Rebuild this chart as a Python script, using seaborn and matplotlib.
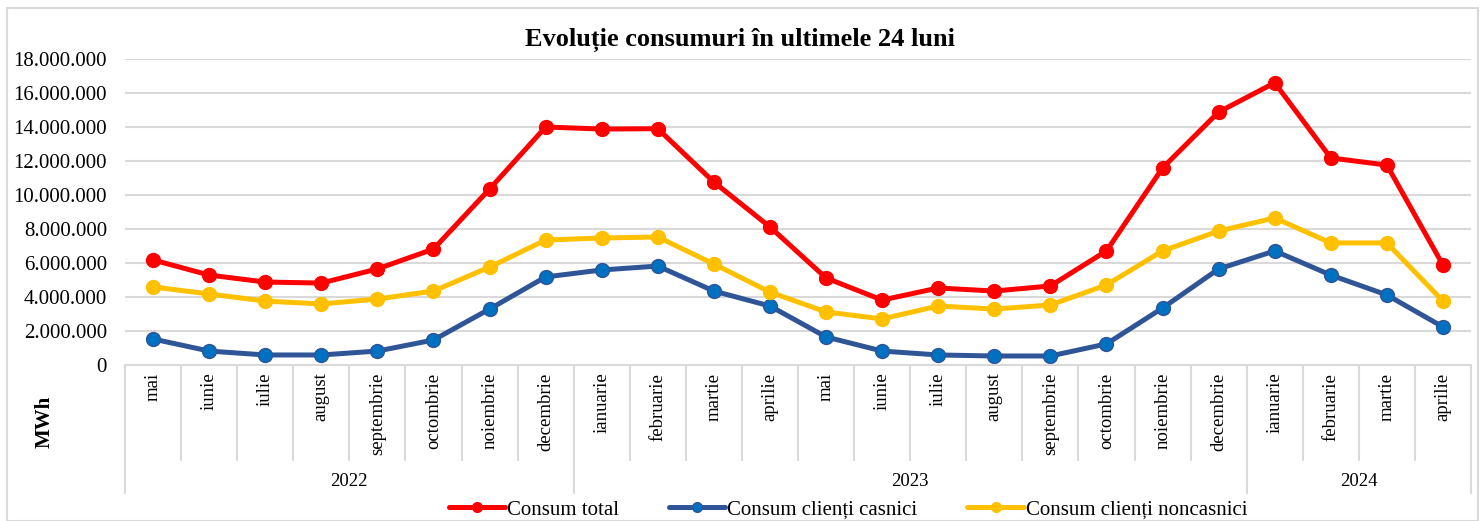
import pandas as pd
import matplotlib.pyplot as plt
import numpy as np
import seaborn as sns
from matplotlib.ticker import FuncFormatter
from matplotlib.patches import Rectangle
from matplotlib.transforms import blended_transform_factory

# Data (MWh)
months = ['mai', 'iunie', 'iulie', 'august', 'septembrie', 'octombrie', 'noiembrie', 'decembrie',
          'ianuarie', 'februarie', 'martie', 'aprilie', 'mai', 'iunie', 'iulie', 'august',
          'septembrie', 'octombrie', 'noiembrie', 'decembrie',
          'ianuarie', 'februarie', 'martie', 'aprilie']
years = ['2022', '2023', '2024']
year_sizes = [8, 12, 4]

consum_total = [6180000, 5290000, 4880000, 4820000, 5650000, 6820000, 10350000, 14000000,
                13880000, 13900000, 10760000, 8120000, 5120000, 3820000, 4530000, 4350000,
                4650000, 6710000, 11590000, 14880000, 16600000, 12180000, 11760000, 5880000]
consum_noncasnici = [4590000, 4180000, 3760000, 3590000, 3880000, 4350000, 5760000, 7350000,
                     7470000, 7530000, 5940000, 4290000, 3120000, 2710000, 3470000, 3290000,
                     3530000, 4710000, 6710000, 7880000, 8650000, 7180000, 7180000, 3760000]
consum_casnici = [1530000, 820000, 590000, 590000, 820000, 1470000, 3290000, 5180000,
                  5590000, 5820000, 4350000, 3470000, 1650000, 820000, 590000, 530000,
                  530000, 1240000, 3350000, 5650000, 6710000, 5290000, 4120000, 2240000]

series = [
    ('Consum total', consum_total, '#FF0000', '#FF0000', '#FF0000'),
    ('Consum clienți casnici', consum_casnici, '#2F5597', '#0070C0', '#2F5597'),
    ('Consum clienți noncasnici', consum_noncasnici, '#FFC000', '#FFC000', '#FFC000'),
]

sns.set_style('white')
plt.rcParams['font.family'] = ['Liberation Serif', 'DejaVu Serif']
plt.rcParams['text.color'] = 'black'
plt.rcParams['ytick.color'] = 'black'
plt.rcParams['xtick.color'] = 'black'

fig = plt.figure(figsize=(14.83, 5.21), dpi=100)
W, H = 1483, 521
ax = fig.add_axes([125 / W, (H - 365) / H, (1471 - 125) / W, (365 - 59) / H])

# chart border
fig.patches.append(Rectangle((7 / W, 0), (1478 - 7) / W, (H - 8) / H, transform=fig.transFigure,
                             fill=False, edgecolor='#D9D9D9', linewidth=1.5))

pos = np.arange(len(months))
for name, vals, lc, mfc, mec in series:
    sns.lineplot(x=pos, y=vals, ax=ax, color=lc, linewidth=3.6, marker='o', markersize=10,
                 markerfacecolor=mfc, markeredgecolor=mec, markeredgewidth=1, label=name)

ax.set_xlim(-0.5, len(months) - 0.5)
ax.set_ylim(0, 18000000)
ax.set_yticks(np.arange(0, 18000001, 2000000))
ax.yaxis.set_major_formatter(FuncFormatter(lambda v, p: f'{int(v):,}'.replace(',', '.')))
ax.tick_params(axis='y', labelsize=15, pad=13, length=0)
ax.set_xticks([])
ax.grid(axis='y', color='#D9D9D9', linewidth=1.5)
ax.set_axisbelow(True)
for s in ['top', 'right', 'left']:
    ax.spines[s].set_visible(False)
ax.spines['bottom'].set_color('#D9D9D9')
ax.spines['bottom'].set_linewidth(1.5)
ax.set_xlabel('')
ax.set_ylabel('')

# category axis: months and years
tr = blended_transform_factory(ax.transData, ax.transAxes)
month_bottom = -95 / 306
year_bottom = -128 / 306
for i, m in enumerate(months):
    ax.text(i, -0.025, m, transform=tr, rotation=90, ha='center', va='top', fontsize=13.5)
edges = np.concatenate([[0], np.cumsum(year_sizes)]) - 0.5
for e in np.arange(-0.5, len(months)):
    bottom = year_bottom if e in edges else month_bottom
    ax.plot([e, e], [0, bottom], transform=tr, color='#D9D9D9', linewidth=1.5, clip_on=False)
for j, y in enumerate(years):
    ax.text((edges[j] + edges[j + 1]) / 2, -117 / 306, y, transform=tr, ha='center', va='center',
            fontsize=13.5)

fig.text(45 / W, (H - 422) / H, 'MWh', rotation=90, ha='center', va='center', fontsize=15,
         fontweight='bold')
fig.text(740 / W, (H - 40) / H, 'Evoluție consumuri în ultimele 24 luni', ha='center',
         va='center', fontsize=19, fontweight='bold')

ax.get_legend().remove()
handles, labels = ax.get_legend_handles_labels()
leg = fig.legend(handles, labels, loc='center', bbox_to_anchor=(848 / W, 11 / H), ncol=3,
                 frameon=False, fontsize=15, handlelength=2.7, handletextpad=0.1,
                 columnspacing=2.4, borderpad=0)
for h in leg.legend_handles:
    h.set_markersize(7)

fig.savefig('out.png', dpi=100)
